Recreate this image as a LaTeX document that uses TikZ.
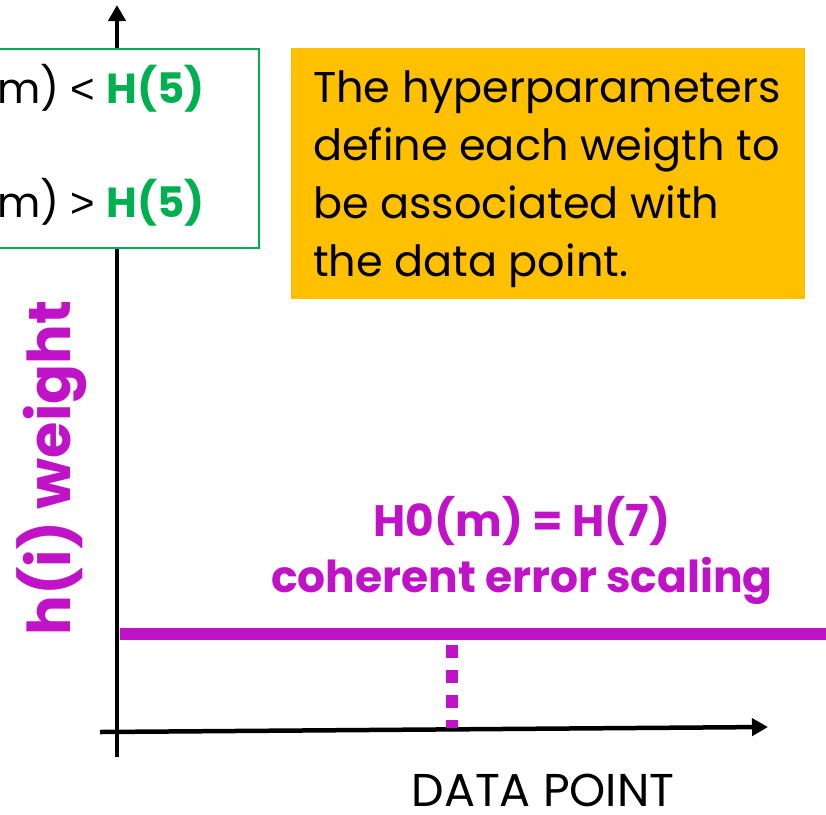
\documentclass[tikz,border=0pt]{standalone}
\usepackage{fontspec}
\setmainfont{Poppins}
\newfontfamily\relfont{Liberation Sans}
\usetikzlibrary{arrows.meta}
\definecolor{weightmag}{HTML}{C013C8}
\definecolor{condgreen}{HTML}{00B050}
\definecolor{noteorange}{HTML}{FFC000}
\tikzset{
  axisline/.style={line width=4.5pt, -{Triangle[length=16pt,width=17pt]}},
  magtext/.style={text=weightmag, font=\fontsize{44}{56}\selectfont\bfseries, align=center},
  notetext/.style={font=\fontsize{43}{58}\selectfont, align=left, anchor=north west, inner sep=0pt},
  condtext/.style={anchor=west, inner sep=0pt, font=\fontsize{42}{50}\selectfont},
}
\begin{document}
\begin{tikzpicture}[x=1pt, y=-1pt]
\useasboundingbox (0,0) rectangle (826,814);
% axes
\coordinate (yb) at (117,757);
\coordinate (yt) at (117,5);
\coordinate (xl) at (100,732);
\coordinate (xr) at (768,727);
\draw[axisline] (yb) -- (yt);
\draw[axisline] (xl) -- (xr);
% condition box
\node[draw=condgreen, line width=2pt, fill=white, minimum width=290pt, minimum height=199pt, anchor=north east, inner sep=0pt] (cond) at (260,48) {};
\node[condtext] (c1) at (-3,88) {m) {\relfont<} \textcolor{condgreen}{\bfseries H(5)}};
\node[condtext] (c2) at (-3,202) {m) {\relfont>} \textcolor{condgreen}{\bfseries H(5)}};
% note box
\node[fill=noteorange, minimum width=514pt, minimum height=251pt, anchor=north west, inner sep=0pt] (note) at (291,48) {};
\node[notetext] (notet) at (313,70) {The hyperparameters\\define each weigth to\\be associated with\\the data point.};
% y label
\node[rotate=90, text=weightmag, font=\fontsize{59}{62}\selectfont\bfseries, inner sep=0pt] (ylab) at (52,468) {h(i) weight};
% constant weight line
\coordinate (hl) at (120,634);
\coordinate (hr) at (826,634);
\draw[weightmag, line width=12pt] (hl) -- (hr);
\node[magtext] (hlab) at (522,550) {H0(m) = H(7)\\coherent error scaling};
% data point marker
\coordinate (dt) at (452,645);
\coordinate (db) at (452,728);
\draw[weightmag, line width=12pt, dash pattern=on 13pt off 12pt] (dt) -- (db);
% x label
\node[font=\fontsize{46}{50}\selectfont, inner sep=0pt, anchor=base] (xlab) at (543,806) {DATA POINT};
\end{tikzpicture}
\end{document}
